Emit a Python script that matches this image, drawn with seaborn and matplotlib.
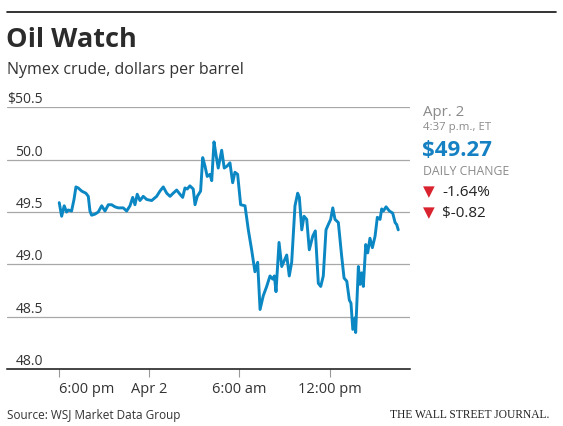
import matplotlib
matplotlib.use("Agg")
import matplotlib.pyplot as plt
import matplotlib.transforms as mtrans
import seaborn as sns
import pandas as pd

# ---- data ----
hours = [-5.96, -5.80, -5.63, -5.47, -5.36, -5.14, -4.98, -4.85, -4.70, -4.47,
         -4.19, -4.03, -3.92, -3.81, -3.59, -3.37, -3.14, -2.92, -2.70, -2.48,
         -2.26, -2.04, -1.71, -1.48, -1.26, -1.08, -0.93, -0.78, -0.60, -0.38,
         -0.15, 0.18, 0.51, 0.73, 0.95, 1.18, 1.40, 1.61, 1.84, 2.06,
         2.24, 2.39, 2.54,
         2.72, 2.94, 3.06, 3.21, 3.43, 3.57, 3.72, 3.87, 4.05, 4.17,
         4.32, 4.45, 4.60, 4.83, 5.00, 5.20, 5.38, 5.56, 5.71, 5.89,
         6.09, 6.38, 6.60, 6.82, 7.04, 7.22, 7.38, 7.59, 7.82, 8.04,
         8.22, 8.33, 8.44, 8.64, 8.82, 8.97, 9.15, 9.32, 9.48, 9.70,
         9.88, 9.99, 10.15, 10.30, 10.48, 10.65, 10.88, 11.05, 11.25, 11.41,
         11.58, 11.76, 11.91, 12.07, 12.21, 12.36, 12.58, 12.80, 12.96, 13.14,
         13.31, 13.42, 13.54, 13.69, 13.73, 13.91, 14.02, 14.13, 14.24, 14.40,
         14.53, 14.68, 14.84, 15.02, 15.17, 15.35, 15.46, 15.57, 15.75, 15.97,
         16.19, 16.35, 16.46, 16.56]
prices = [49.59, 49.46, 49.56, 49.50, 49.52, 49.51, 49.62, 49.74, 49.73, 49.70,
          49.68, 49.65, 49.51, 49.47, 49.48, 49.50, 49.56, 49.51, 49.57, 49.57,
          49.55, 49.54, 49.54, 49.51, 49.56, 49.64, 49.57, 49.67, 49.61, 49.65,
          49.62, 49.61, 49.65, 49.70, 49.74, 49.68, 49.65, 49.68, 49.71, 49.67,
          49.64, 49.73, 49.72,
          49.75, 49.72, 49.57, 49.65, 49.70, 50.02, 49.94, 49.84, 49.86, 49.80,
          50.17, 50.05, 49.92, 50.09, 49.92, 49.94, 49.97, 49.78, 49.88, 49.86,
          49.57, 49.56, 49.33, 49.14, 48.93, 49.02, 48.57, 48.70, 48.79, 48.89,
          48.86, 48.89, 48.74, 49.21, 48.98, 49.03, 49.09, 48.89, 49.02, 49.56,
          49.68, 49.64, 49.33, 49.46, 49.43, 49.14, 49.27, 49.32, 48.82, 48.79,
          48.89, 49.33, 49.38, 49.43, 49.54, 49.43, 49.40, 49.08, 48.87, 48.84,
          48.66, 48.63, 48.38, 48.49, 48.35, 48.98, 48.81, 48.92, 48.79, 49.19,
          49.11, 49.25, 49.16, 49.27, 49.45, 49.43, 49.53, 49.51, 49.55, 49.51,
          49.49, 49.40, 49.38, 49.33]

y_ticks = [48.0, 48.5, 49.0, 49.5, 50.0, 50.5]
y_tick_labels = ["48.0", "48.5", "49.0", "49.5", "50.0", "$50.5"]
x_ticks = [-6, 0, 6, 12]
x_tick_labels = ["6:00 pm", "Apr 2", "6:00 am", "12:00 pm"]

title = "Oil Watch"
subtitle = "Nymex crude, dollars per barrel"
source = "Source: WSJ Market Data Group"
brand = "THE WALL STREET JOURNAL."
panel_date = "Apr. 2"
panel_time = "4:37 p.m., ET"
panel_price = "$49.27"
panel_change_label = "DAILY CHANGE"
panel_changes = ["-1.64%", "$-0.82"]

# ---- style ----
sns.set_style("white")
plt.rcParams["font.family"] = ["Open Sans", "DejaVu Sans"]

W, H = 563, 426
fig = plt.figure(figsize=(W / 100, H / 100), dpi=100)


def fx(x):
    return x / W


def fy(y):
    return 1 - y / H


ax_left, ax_right, ax_top, ax_bottom = 7, 410, 107.3, 369.2
ax = fig.add_axes([fx(ax_left), fy(ax_bottom), (ax_right - ax_left) / W,
                   (ax_bottom - ax_top) / H])

df = pd.DataFrame({"hours": hours, "price": prices})
line_color = "#0b87c4"
sns.lineplot(data=df, x="hours", y="price", ax=ax, color=line_color,
             linewidth=2.1, solid_joinstyle="round", solid_capstyle="round")

ax.set_xlim(-9.43, 17.34)
ax.set_ylim(48.0, 50.5)
ax.set_xlabel("")
ax.set_ylabel("")
for s in ["top", "left", "right"]:
    ax.spines[s].set_visible(False)
ax.spines["bottom"].set_color("#111111")
ax.spines["bottom"].set_linewidth(1.1)

# gridlines
for v in y_ticks[1:]:
    ax.axhline(v, color="#a8a8a8", linewidth=0.9, zorder=0)

# y tick labels above gridlines
ax.set_yticks([])
trans = mtrans.blended_transform_factory(ax.transAxes, ax.transData)
for v, lab in zip(y_ticks, y_tick_labels):
    ax.text(0.0895, v, lab, transform=trans, ha="right", va="bottom",
            fontsize=10, color="#333333")

# x ticks
ax.set_xticks(x_ticks)
ax.set_xticklabels(x_tick_labels, fontsize=10.5, color="#333333")
ax.tick_params(axis="x", direction="out", length=5.5, width=0.8,
               color="#999999", pad=3.5, bottom=True)
ax.get_xticklabels()[0].set_horizontalalignment("left")

# header
fig.add_artist(plt.Line2D([fx(7), fx(556)], [fy(11.7), fy(11.7)],
                          color="#111111", linewidth=1.2))
fig.text(fx(6), fy(47), title, fontsize=19.5, fontweight="bold",
         color="#2b2b2b", va="baseline", ha="left")
fig.text(fx(7), fy(73.5), subtitle, fontsize=11.5, color="#333333",
         va="baseline", ha="left")

# footer
fig.text(fx(7), fy(418.5), source, fontsize=8.5, color="#333333",
         va="baseline", ha="left")
fig.text(fx(549), fy(418.5), brand, fontsize=8.3, color="#222222",
         va="baseline", ha="right", family=["Liberation Serif"])

# right panel
px = 423
fig.text(fx(px), fy(116), panel_date, fontsize=10.8, color="#8a8a8a",
         va="baseline", ha="left")
fig.text(fx(px), fy(130), panel_time, fontsize=8.2, color="#8a8a8a",
         va="baseline", ha="left")
fig.text(fx(px - 1), fy(155.5), panel_price, fontsize=16, fontweight="bold",
         color="#1581c3", va="baseline", ha="left")
fig.text(fx(px), fy(175), panel_change_label, fontsize=8.8, color="#8a8a8a",
         va="baseline", ha="left")
for i, ch in enumerate(panel_changes):
    base = 196 + i * 21
    fig.text(fx(px), fy(base), "\u25BC", fontsize=11, color="#d9232e",
             va="baseline", ha="left", family=["DejaVu Sans"])
    fig.text(fx(442.5), fy(base), ch, fontsize=11, color="#222222",
             va="baseline", ha="left")

fig.savefig("out.png", dpi=100)
